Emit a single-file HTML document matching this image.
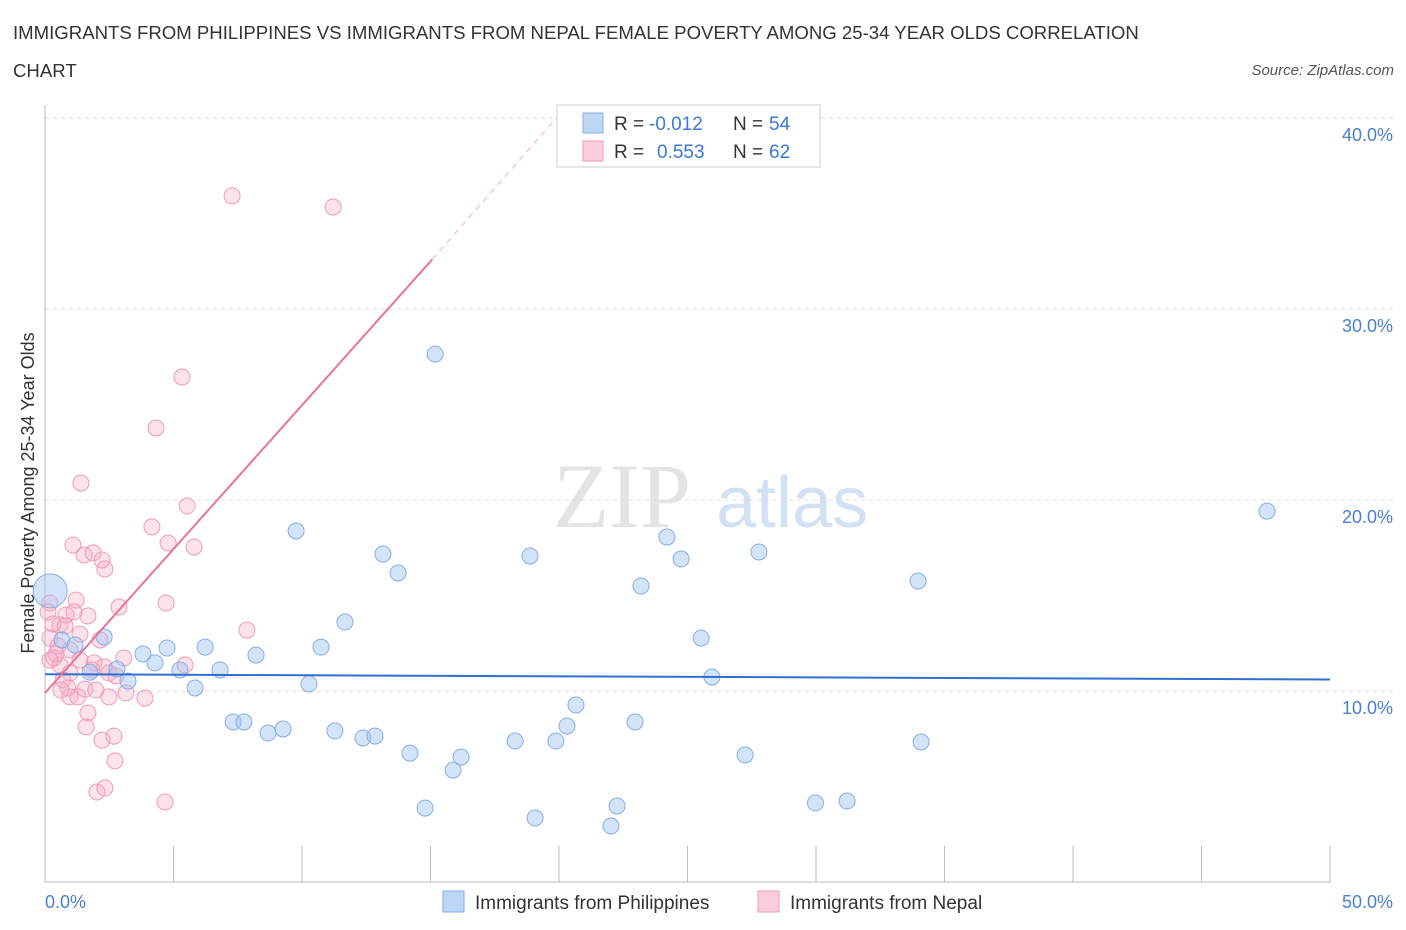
<!DOCTYPE html>
<html><head><meta charset="utf-8">
<style>
body{margin:0;background:#fff;font-family:"Liberation Sans",sans-serif;}
#wrap{position:relative;width:1406px;height:930px;overflow:hidden;}
.t{position:absolute;white-space:nowrap;}
</style></head><body>
<div id="wrap">
<div class="t" style="left:13px;top:14px;font-size:18.6px;color:#333;line-height:38px;width:1160px;white-space:normal">IMMIGRANTS FROM PHILIPPINES VS IMMIGRANTS FROM NEPAL FEMALE POVERTY AMONG 25-34 YEAR OLDS CORRELATION CHART</div>
<div class="t" style="right:12px;top:62px;font-size:15px;color:#555;font-style:italic">Source: ZipAtlas.com</div>
<svg id="chart" width="1406" height="930" style="position:absolute;left:0;top:0"></svg>
</div>
<script>
const yTicks=[10,20,30,40];
const xTickLabels=["0.0%","50.0%"];
const phX=[15.18,47.55,9.77,13.15,18.87,24.20,24.75,27.78,13.74,23.19,33.97,11.67,2.30,10.74,6.23,4.75,3.81,8.21,4.28,6.81,5.25,1.75,2.80,3.23,5.84,10.27,25.53,25.95,20.66,7.32,7.74,8.68,9.26,11.28,12.37,12.84,18.29,19.88,20.31,22.96,27.24,34.09,14.20,16.19,15.88,14.79,19.07,22.02,22.26,29.98,31.21,0.66,1.17];
const phY=[27.64,19.42,18.38,17.17,17.07,18.06,16.91,17.28,16.18,15.50,15.76,13.61,12.83,12.30,12.30,12.25,11.94,11.88,11.47,11.10,11.10,10.99,11.15,10.52,10.16,10.37,12.77,10.73,9.27,8.38,8.38,7.80,8.01,7.91,7.54,7.64,7.38,7.38,8.17,8.38,6.65,7.33,6.75,6.54,5.86,3.87,3.35,2.93,3.98,4.14,4.24,12.67,12.41];
const phBig=[0.2,15.24];
const npX=[7.28,11.21,5.33,4.32,1.40,5.53,4.16,4.79,5.80,1.09,1.52,1.87,2.22,2.33,4.71,2.88,1.21,0.19,0.82,1.67,7.86,0.58,0.31,0.78,1.36,2.14,0.19,0.51,0.97,5.45,1.91,2.30,3.07,2.49,2.76,0.97,0.35,0.58,1.56,0.89,0.97,1.28,1.98,2.49,3.15,3.89,1.67,1.60,2.22,2.68,2.72,2.02,2.33,4.67,0.12,0.43,0.70,1.36,1.13,1.83,0.19,0.62];
const npY=[35.92,35.34,26.44,23.77,20.89,19.69,18.59,17.75,17.54,17.64,17.12,17.23,16.86,16.39,14.61,14.40,14.76,14.61,13.98,13.93,13.19,13.46,13.51,13.40,12.98,12.67,12.77,12.36,12.15,11.36,11.47,11.26,11.73,10.94,10.79,10.94,11.73,11.36,10.10,10.16,9.69,9.69,10.05,9.69,9.90,9.63,8.85,8.12,7.43,7.64,6.34,4.71,4.92,4.19,14.14,11.94,10.58,11.62,14.14,11.10,11.62,10.05];
const phTrend=[0,10.88,50,10.6];
const npTrend=[0,9.9,15.07,32.6,19.9,40];
const X=v=>45+v*25.7, Y=v=>882-v*19.1;
const svg=document.getElementById('chart');const NS='http://www.w3.org/2000/svg';
function mk(tag,at,parent){const e=document.createElementNS(NS,tag);for(const k in at)e.setAttribute(k,at[k]);(parent||svg).appendChild(e);return e;}
let w=mk('text',{x:553,y:527,'font-size':92,'font-family':'Liberation Serif,serif',fill:'#e4e4e4'});w.textContent='ZIP';


let w2=mk('text',{x:716,y:527,'font-size':72,'font-family':'Liberation Sans,sans-serif',fill:'#d3e2f3'});w2.textContent='atlas';


yTicks.forEach(t=>{let g=mk('line',{x1:45,x2:1393,y1:Y(t),y2:Y(t),stroke:'#dcdcdc','stroke-dasharray':'4,4'});


let l=mk('text',{x:1393,y:Y(t)+23,'text-anchor':'end','font-size':18,fill:'#4a7fd0'});l.textContent=t.toFixed(1)+'%';

});
let ax=mk('line',{x1:45,x2:1330,y1:882,y2:882,stroke:'#bbb'});


let ay=mk('line',{x1:45,x2:45,y1:105,y2:882,stroke:'#bbb'});


for(let i=1;i<=10;i++){let tk=mk('line',{x1:X(i*5),x2:X(i*5),y1:846,y2:882,stroke:'#bbb'});

}
[[0,'start',45],[1,'end',1393]].forEach(([i,a,x])=>{let l=mk('text',{x:x,y:908,'text-anchor':a,'font-size':18,fill:'#4a7fd0'});l.textContent=xTickLabels[i];

});
let yt=mk('text',{x:34,y:493,'text-anchor':'middle','font-size':18,fill:'#333',transform:'rotate(-90 34 493)'});yt.textContent='Female Poverty Among 25-34 Year Olds';


npX.forEach((x,i)=>{let c=mk('circle',{cx:X(x),cy:Y(npY[i]),r:8,fill:'rgba(246,172,198,0.35)',stroke:'#f09ab8','stroke-width':1});

});
phX.forEach((x,i)=>{let c=mk('circle',{cx:X(x),cy:Y(phY[i]),r:8,fill:'rgba(160,196,240,0.45)',stroke:'#86aee3','stroke-width':1});

});
let bg=mk('circle',{cx:X(phBig[0]),cy:Y(phBig[1]),r:17,fill:'rgba(160,196,240,0.45)',stroke:'#86aee3'});


let tl=mk('line',{x1:X(phTrend[0]),y1:Y(phTrend[1]),x2:X(phTrend[2]),y2:Y(phTrend[3]),stroke:'#2f6fd1','stroke-width':2});


let pl=mk('line',{x1:X(npTrend[0]),y1:Y(npTrend[1]),x2:X(npTrend[2]),y2:Y(npTrend[3]),stroke:'#e8739a','stroke-width':2});


let pd=mk('line',{x1:X(npTrend[2]),y1:Y(npTrend[3]),x2:X(npTrend[4]),y2:Y(npTrend[5]),stroke:'#f0b0c4','stroke-width':1,'stroke-dasharray':'6,5'});


let lg=mk('rect',{x:557,y:105,width:263,height:62,fill:'#fff',stroke:'#ccc'});


[[113,'rgba(160,196,240,0.7)','#86aee3','-0.012','54',649],[141,'rgba(246,172,198,0.6)','#f09ab8','0.553','62',657]].forEach(([y,f,s,r,n,rx])=>{
let sq=mk('rect',{x:583,y:y,width:20,height:20,fill:f,stroke:s});


let a=mk('text',{x:614,y:y+17,'font-size':19,fill:'#333'});a.textContent='R =';


let b=mk('text',{x:rx,y:y+17,'font-size':19,fill:'#3b78d8'});b.textContent=r;


let c=mk('text',{x:733,y:y+17,'font-size':19,fill:'#333'});c.textContent='N =';


let d=mk('text',{x:769,y:y+17,'font-size':19,fill:'#3b78d8'});d.textContent=n;

});
[[443,'rgba(160,196,240,0.7)','#86aee3','Immigrants from Philippines'],[758,'rgba(246,172,198,0.6)','#f09ab8','Immigrants from Nepal']].forEach(([x,f,s,lab])=>{
let sq=mk('rect',{x:x,y:891,width:21,height:21,fill:f,stroke:s});


let t=mk('text',{x:x+32,y:909,'font-size':19,fill:'#333'});t.textContent=lab;

});
</script>
</body></html>
